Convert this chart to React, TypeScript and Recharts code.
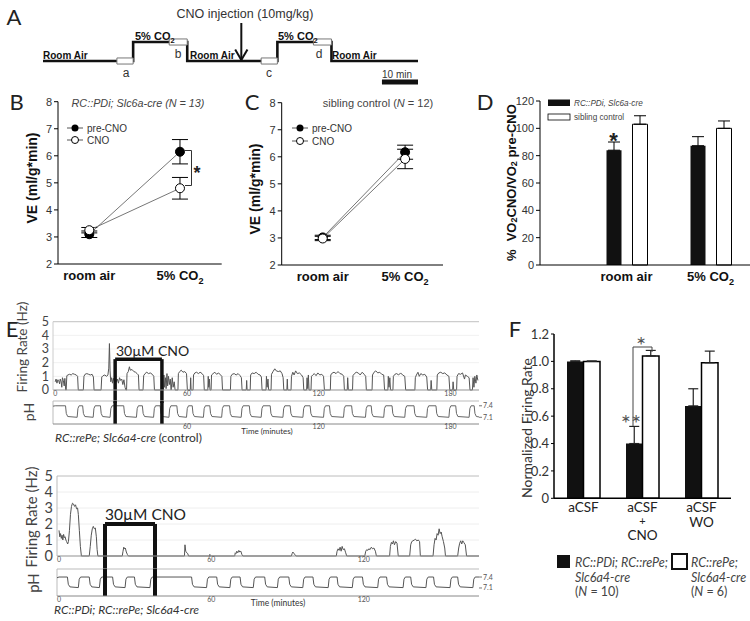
import React from 'react';
import {
  LineChart, Line, BarChart, Bar, XAxis, YAxis, ErrorBar,
  ReferenceLine, ReferenceArea, CartesianGrid,
} from 'recharts';

const ARIAL = "'Liberation Sans', Arial, Helvetica, sans-serif";
const MYR = "Lato, 'Open Sans', sans-serif";

// ---------------- Panel A (protocol schematic, minutes) ----------------
const protocolTimes = [0, 25, 40, 65, 80, 104];
const protocolLevels = [0, 1, 0, 1, 0, 0];
const windowIds = ['a', 'b', 'c', 'd'];
const windowStarts = [20.5, 35, 60.5, 75];
const windowEnds = [25, 40, 65, 80];
const windowLevels = [0, 1, 0, 1];
const injectionTime = 55;
const scaleBarMinutes = [94, 104];

// ---------------- Panels B, C ----------------
const conditions = ['room air', '5% CO2'];
const bPreCNO = [3.1, 6.15];
const bPreErr = [0.12, 0.45];
const bCNO = [3.25, 4.8];
const bCNOErr = [0.1, 0.4];
const cPreCNO = [3.02, 6.17];
const cPreErr = [0.08, 0.26];
const cCNO = [2.98, 5.92];
const cCNOErr = [0.08, 0.36];
const veTicks = [2, 3, 4, 5, 6, 7, 8];

// ---------------- Panel D ----------------
const dPDi = [84, 87.3];
const dPDiErr = [6, 6.6];
const dSibling = [103, 100];
const dSiblingErr = [6.2, 5.4];
const vo2Ticks = [0, 20, 40, 60, 80, 100, 120];

// ---------------- Panel F ----------------
const fConditions = ['aCSF', 'aCSF|+|CNO', 'aCSF|WO'];
const fPDi = [1.0, 0.4, 0.675];
const fPDiErr = [0.004, 0.125, 0.125];
const fRePe = [1.0, 1.04, 0.99];
const fRePeErr = [0.003, 0.04, 0.085];
const fTicks = [0, 0.2, 0.4, 0.6, 0.8, 1.0, 1.2];

// ---------------- Panel E traces (minutes, Hz / pH) ----------------
const cnoTopWindow = [27.3, 48.6];
const cnoBottomWindow = [18.1, 37.8];
const topTimeTicks = [0, 60, 120, 180];
const bottomTimeTicks = [0, 60, 120];
const rateTicks = [0, 1, 2, 3, 4, 5];
const phTicks = [7.1, 7.4];

const topFiring: [number, number][] = [
  [0, 0.6], [0.4, 0.8], [0.8, 0.5], [1.2, 0.75], [1.6, 0.7], [2.0, 0.45], [2.3, 0.8], [2.7, 0.6], [3.0, 0.2], [3.3, 0.9], [3.7, 0.7], [4.1, 0.3], [4.4, 0.85], [4.8, 0],
  [5.0, 0], [5.3, 1.05], [5.8, 1.1], [6.5, 1.15], [7.3, 1.1], [8.0, 1.2], [8.8, 1.15], [9.6, 1.1], [10.2, 1.0], [10.5, 0],
  [12.8, 0], [13.1, 1.0], [13.6, 1.15], [14.4, 1.2], [15.2, 1.15], [16.0, 1.1], [16.8, 1.15], [17.4, 0.95], [17.7, 0],
  [20.9, 0], [21.2, 0.95], [21.8, 1.05], [22.6, 1.1], [23.4, 1.0], [24.0, 1.1], [24.4, 1.6], [24.7, 3.4], [25.0, 1.4], [25.3, 0.6], [25.7, 0.9], [26.1, 0.5], [26.5, 0.85], [26.9, 0.7], [27.3, 0.95], [27.8, 0.6], [28.3, 0.8], [28.8, 0.5], [29.3, 0.9], [29.8, 0.7], [30.3, 0.8], [30.8, 0.4], [31.3, 0.75], [31.8, 0.2], [32.2, 0],
  [32.5, 0], [32.7, 1.2], [33.3, 1.35], [33.8, 1.7], [34.2, 1.45], [35.0, 1.5], [35.8, 1.35], [36.6, 1.3], [37.3, 1.2], [37.9, 1.1], [38.2, 0],
  [40.0, 0], [40.3, 1.05], [40.9, 1.2], [41.7, 1.3], [42.5, 1.2], [43.3, 1.25], [44.2, 1.15], [44.9, 1.0], [45.2, 0],
  [49.3, 0], [49.5, 1.1], [49.8, 0.2], [50.2, 0.9], [50.5, 0.1], [50.9, 1.2], [51.2, 0.3], [51.6, 1.0], [52.0, 0.4], [52.4, 0.8], [52.8, 0], [53.3, 0.9], [53.7, 0.2], [54.2, 0.6], [54.6, 0],
  [55.9, 0], [56.1, 1.2], [56.7, 1.35], [57.4, 1.45], [58.2, 1.3], [59.0, 1.35], [59.8, 1.2], [60.2, 0],
  [61.5, 0], [61.7, 0.9], [61.9, 0], [62.8, 0], [63.0, 1.1], [63.6, 1.25], [64.4, 1.3], [65.2, 1.2], [66.0, 1.3], [66.9, 1.2], [67.6, 1.05], [67.9, 0],
  [69.5, 0], [69.7, 1.0], [69.9, 0.2], [70.2, 0.8], [70.5, 0], [71.0, 0], [71.2, 1.1], [71.9, 1.2], [72.7, 1.3], [73.5, 1.15], [74.4, 1.25], [75.3, 1.1], [75.9, 1.0], [76.2, 0],
  [79.8, 0], [80.0, 1.0], [80.6, 1.15], [81.5, 1.2], [82.4, 1.1], [83.3, 1.2], [84.2, 1.05], [84.8, 0.9], [85.1, 0],
  [87.0, 0], [87.2, 0.7], [87.4, 0], [88.8, 0], [89.0, 1.1], [89.7, 1.25], [90.6, 1.2], [91.5, 1.3], [92.4, 1.15], [93.3, 1.1], [93.9, 0.95], [94.2, 0],
  [96.0, 0], [96.2, 1.0], [96.5, 0.2], [96.9, 0.8], [97.2, 0], [98.3, 0], [98.5, 1.15], [99.2, 1.35], [100.0, 1.55], [100.7, 1.4], [101.6, 1.35], [102.5, 1.4], [103.3, 1.2], [103.8, 0.9], [104.1, 0],
  [105.5, 0], [105.7, 0.8], [105.9, 0], [107.4, 0], [107.6, 1.0], [108.2, 1.3], [108.8, 1.1], [109.5, 1.4], [110.3, 1.2], [111.2, 1.25], [112.2, 1.1], [112.9, 0.9], [113.2, 0],
  [114.5, 0], [114.7, 0.9], [115.0, 0.1], [115.3, 1.1], [115.6, 0], [116.5, 0], [116.7, 1.0], [117.3, 1.1], [118.0, 1.2], [118.8, 1.05], [119.6, 1.25], [120.5, 1.1], [121.4, 1.15], [122.2, 1.0], [122.6, 0],
  [125.3, 0], [125.5, 1.1], [126.2, 1.25], [127.0, 1.3], [127.9, 1.2], [128.8, 1.35], [129.7, 1.2], [130.7, 1.15], [131.4, 1.0], [131.7, 0],
  [133.0, 0], [133.2, 0.9], [133.5, 0], [135.4, 0], [135.6, 1.05], [136.3, 1.2], [137.1, 1.3], [138.0, 1.25], [138.9, 1.1], [139.8, 1.3], [140.7, 1.15], [141.4, 1.0], [141.7, 0],
  [144.3, 0], [144.5, 1.1], [145.2, 1.3], [146.0, 1.4], [146.9, 1.25], [147.8, 1.3], [148.7, 1.15], [149.6, 1.1], [150.0, 0],
  [151.5, 0], [151.7, 1.0], [152.0, 0.2], [152.4, 0.9], [152.7, 0], [153.8, 0], [154.0, 1.0], [154.7, 1.15], [155.5, 1.2], [156.4, 1.1], [157.3, 1.25], [158.2, 1.1], [159.2, 1.0], [159.6, 0],
  [163.8, 0], [164.0, 0.9], [164.5, 1.1], [165.2, 1.3], [165.8, 1.0], [166.5, 1.2], [167.4, 1.1], [168.3, 1.15], [169.2, 0.95], [169.6, 0],
  [171.0, 0], [171.2, 0.7], [171.5, 0], [173.8, 0], [174.0, 1.1], [174.7, 1.25], [175.6, 1.3], [176.5, 1.2], [177.4, 1.25], [178.4, 1.1], [179.3, 1.0], [179.7, 0],
  [181.0, 0], [181.2, 0.6], [181.5, 0], [182.8, 0], [183.0, 1.0], [183.7, 1.2], [184.6, 1.15], [185.5, 1.25], [186.4, 0.8], [186.8, 1.1], [187.7, 1.0], [188.5, 0.9], [188.9, 0],
  [190.0, 0], [190.3, 0.9], [190.7, 0.2], [191.1, 1.0], [191.6, 0.5], [192.0, 1.1], [192.5, 0.7],
];

const topPH: [number, number][] = [
  [-1, 7.39], [0, 7.4],
  [4.7, 7.4], [5.05, 7.2], [5.7, 7.12], [10.0, 7.1], [10.35, 7.33], [10.9, 7.4],
  [12.5, 7.4], [12.85, 7.2], [13.5, 7.12], [17.3, 7.1], [17.65, 7.33], [18.2, 7.4],
  [20.6, 7.4], [20.95, 7.2], [21.6, 7.12], [25.0, 7.1], [25.35, 7.33], [25.9, 7.4],
  [31.2, 7.4], [31.55, 7.2], [32.2, 7.12], [37.0, 7.1], [37.35, 7.33], [37.9, 7.4],
  [39.7, 7.4], [40.05, 7.2], [40.7, 7.12], [44.8, 7.1], [45.15, 7.33], [45.7, 7.4],
  [47.8, 7.4], [48.15, 7.2], [48.8, 7.12], [51.8, 7.1], [52.15, 7.33], [52.7, 7.4],
  [55.4, 7.4], [55.75, 7.2], [56.4, 7.12], [59.8, 7.1], [60.15, 7.33], [60.7, 7.4],
  [62.4, 7.4], [62.75, 7.2], [63.4, 7.12], [67.5, 7.1], [67.85, 7.33], [68.4, 7.4],
  [70.4, 7.4], [70.75, 7.2], [71.4, 7.12], [75.8, 7.1], [76.15, 7.33], [76.7, 7.4],
  [79.4, 7.4], [79.75, 7.2], [80.4, 7.12], [84.7, 7.1], [85.05, 7.33], [85.6, 7.4],
  [88.4, 7.4], [88.75, 7.2], [89.4, 7.12], [93.8, 7.1], [94.15, 7.33], [94.7, 7.4],
  [97.9, 7.4], [98.25, 7.2], [98.9, 7.12], [103.7, 7.1], [104.05, 7.33], [104.6, 7.4],
  [107.0, 7.4], [107.35, 7.2], [108.0, 7.12], [112.8, 7.1], [113.15, 7.33], [113.7, 7.4],
  [116.1, 7.4], [116.45, 7.2], [117.1, 7.12], [122.2, 7.1], [122.55, 7.33], [123.1, 7.4],
  [124.9, 7.4], [125.25, 7.2], [125.9, 7.12], [131.3, 7.1], [131.65, 7.33], [132.2, 7.4],
  [135.0, 7.4], [135.35, 7.2], [136.0, 7.12], [141.3, 7.1], [141.65, 7.33], [142.2, 7.4],
  [143.9, 7.4], [144.25, 7.2], [144.9, 7.12], [149.6, 7.1], [149.95, 7.33], [150.5, 7.4],
  [153.4, 7.4], [153.75, 7.2], [154.4, 7.12], [159.2, 7.1], [159.55, 7.33], [160.1, 7.4],
  [163.4, 7.4], [163.75, 7.2], [164.4, 7.12], [169.2, 7.1], [169.55, 7.33], [170.1, 7.4],
  [173.4, 7.4], [173.75, 7.2], [174.4, 7.12], [179.3, 7.1], [179.65, 7.33], [180.2, 7.4],
  [182.4, 7.4], [182.75, 7.2], [183.4, 7.12], [188.5, 7.1], [188.85, 7.33], [189.4, 7.4],
  [190.8, 7.4], [191.15, 7.2], [191.8, 7.12], [193, 7.11],
];

const bottomFiring: [number, number][] = [
  [0, 1.6], [0.3, 1.2], [0.6, 1.4], [0.9, 1.1], [1.2, 1.3], [1.5, 1.0], [1.8, 1.35], [2.1, 1.15], [2.4, 1.2], [2.7, 1.0], [3.0, 0.9], [3.4, 0.75], [3.7, 0.9],
  [4.1, 1.6], [4.5, 2.6], [4.9, 3.1], [5.3, 3.3], [5.7, 3.25], [6.1, 3.1], [6.5, 3.2], [6.9, 2.95], [7.3, 3.0], [7.6, 2.6], [8.0, 1.6], [8.4, 0.6], [8.8, 0],
  [11.9, 0], [12.3, 0.6], [12.7, 1.3], [13.1, 1.7], [13.5, 1.85], [13.9, 1.7], [14.3, 1.75], [14.7, 1.2], [15.0, 0.4], [15.3, 0],
  [24.9, 0], [25.2, 0.3], [25.5, 0.55], [25.8, 0.45], [26.1, 0.5], [26.5, 0.25], [26.9, 0.1], [27.3, 0],
  [49.4, 0], [49.6, 0.7], [49.9, 0.3], [50.3, 0.2], [50.7, 0.15], [51.0, 0],
  [59.2, 0], [59.4, 0.1], [59.6, 0],
  [69.2, 0], [69.4, 0.2], [69.7, 0.15], [70.0, 0.3], [70.4, 0.2], [70.8, 0.35], [71.2, 0.25], [71.6, 0.3], [72.0, 0.1], [72.4, 0],
  [91.5, 0], [91.8, 0.15], [92.1, 0.25], [92.5, 0.15], [92.9, 0.1], [93.3, 0],
  [109.2, 0], [109.5, 0.3], [109.9, 0.45], [110.3, 0.35], [110.7, 0.55], [111.1, 0.3], [111.5, 0.6], [111.9, 0.4], [112.4, 0.45], [112.9, 0.2], [113.3, 0],
  [120.4, 0], [120.8, 0.3], [121.2, 0.4], [121.6, 0.35], [122.0, 0.45], [122.5, 0.4], [123.0, 0.55], [123.5, 0.45], [124.0, 0.5], [124.6, 0.3], [125.0, 0],
  [130.2, 0], [130.5, 0.6], [130.9, 0.85], [131.3, 0.75], [131.7, 0.95], [132.1, 0.7], [132.6, 0.9], [133.1, 0.8], [133.6, 0],
  [138.1, 0], [138.5, 0.7], [138.9, 0.9], [139.4, 0.95], [139.9, 1.0], [140.4, 1.05], [140.9, 0.95], [141.5, 1.0], [142.0, 0.9], [142.3, 0],
  [147.3, 0], [147.7, 0.7], [148.1, 1.1], [148.5, 1.0], [148.9, 1.4], [149.3, 1.3], [149.7, 1.7], [150.1, 1.4], [150.5, 1.5], [150.9, 1.2], [151.4, 0.9], [151.9, 0.5], [152.2, 0],
  [157.0, 0], [157.4, 0.5], [157.8, 0.8], [158.2, 0.95], [158.6, 0.75], [159.0, 0.95], [159.4, 0.85], [160.0, 0.7], [160.5, 0], [165.4, 0],
];

const bottomPH: [number, number][] = [
  [-0.8, 7.38], [0, 7.4],
  [3.3, 7.4], [3.65, 7.2], [4.3, 7.13], [7.6, 7.11], [7.95, 7.34], [8.5, 7.4],
  [11.9, 7.4], [12.25, 7.2], [12.9, 7.13], [15.9, 7.11], [16.25, 7.34], [16.8, 7.4],
  [21.1, 7.4], [21.45, 7.2], [22.1, 7.13], [26.0, 7.11], [26.35, 7.34], [26.9, 7.4],
  [29.7, 7.4], [30.05, 7.2], [30.7, 7.13], [35.8, 7.11], [36.15, 7.34], [36.7, 7.4],
  [52.2, 7.4], [52.55, 7.2], [53.2, 7.13], [58.1, 7.11], [58.45, 7.34], [59.0, 7.4],
  [62.1, 7.4], [62.45, 7.2], [63.1, 7.13], [67.3, 7.11], [67.65, 7.34], [68.2, 7.4],
  [71.3, 7.4], [71.65, 7.2], [72.3, 7.13], [76.5, 7.11], [76.85, 7.34], [77.4, 7.4],
  [81.0, 7.4], [81.35, 7.2], [82.0, 7.13], [86.0, 7.11], [86.35, 7.34], [86.9, 7.4],
  [90.5, 7.4], [90.85, 7.2], [91.5, 7.13], [96.0, 7.11], [96.35, 7.34], [96.9, 7.4],
  [100.0, 7.4], [100.35, 7.2], [101.0, 7.13], [106.0, 7.11], [106.35, 7.34], [106.9, 7.4],
  [109.5, 7.4], [109.85, 7.2], [110.5, 7.13], [115.5, 7.11], [115.85, 7.34], [116.4, 7.4],
  [119.5, 7.4], [119.85, 7.2], [120.5, 7.13], [125.5, 7.11], [125.85, 7.34], [126.4, 7.4],
  [129.0, 7.4], [129.35, 7.2], [130.0, 7.13], [135.5, 7.11], [135.85, 7.34], [136.4, 7.4],
  [138.5, 7.4], [138.85, 7.2], [139.5, 7.13], [144.5, 7.11], [144.85, 7.34], [145.4, 7.4],
  [147.5, 7.4], [147.85, 7.2], [148.5, 7.13], [154.0, 7.11], [154.35, 7.34], [154.9, 7.4],
  [157.0, 7.4], [157.35, 7.2], [158.0, 7.13], [163.0, 7.11], [163.35, 7.34], [163.9, 7.4],
  [165.4, 7.4],
];

// ---------------- helpers ----------------
const Box = ({ left, top, children }: any) => (
  <div style={{ position: 'absolute', left, top }}>{children}</div>
);

const CondLabel = ({ x, y, label, size = 13 }: any) => {
  const isCO2 = label.endsWith('CO2');
  return (
    <text x={x} y={y} dy="0.75em" textAnchor="middle" fontWeight="bold" fontSize={size} fontFamily={ARIAL} fill="#111">
      {isCO2 ? (
        <>
          <tspan>{label.slice(0, -1)}</tspan>
          <tspan fontSize={size * 0.7} dy={size * 0.3}>2</tspan>
        </>
      ) : label}
    </text>
  );
};

const numTick = (p: any) => <CondLabel x={p.x} y={p.y} label={conditions[Math.round(p.payload.value) - 1] || ''} />;
const catTick = (p: any) => <CondLabel x={p.x} y={p.y} label={String(p.payload.value)} />;

const FTick = (p: any) => {
  const lines = String(p.payload.value).split('|');
  const offs = lines.length === 3 ? [8.5, 22.5, 37] : [8.5, 23.5];
  return (
    <g>
      {lines.map((l, i) => (
        <text key={i} x={p.x} y={p.y + offs[i]} textAnchor="middle" dominantBaseline="central"
          fontSize={l === '+' ? 11 : 13.5} fontFamily={MYR} fill="#222">{l}</text>
      ))}
    </g>
  );
};

const axisTick = { fontSize: 11, fill: '#333', fontFamily: ARIAL };

function VEChart({ pre, preErr, cno, cnoErr, width, margin, domain, yWidth }: any) {
  const data = conditions.map((c, i) => ({ x: i + 1, cond: c, pre: pre[i], preErr: preErr[i], cno: cno[i], cnoErr: cnoErr[i] }));
  return (
    <LineChart width={width} height={200} data={data} margin={margin}>
      <XAxis type="number" dataKey="x" domain={domain} allowDataOverflow ticks={[1, 2]} interval={0} tickLine={false}
        axisLine={{ stroke: '#000' }} height={25} tickSize={0} tickMargin={6} tick={numTick} />
      <YAxis type="number" domain={[2, 8]} ticks={veTicks} interval={0} width={yWidth} tickSize={4} tickMargin={2}
        axisLine={{ stroke: '#000' }} tickLine={{ stroke: '#000' }} tick={axisTick} />
      <Line dataKey="pre" stroke="#777" strokeWidth={1} isAnimationActive={false}
        dot={{ r: 4.5, fill: '#000', stroke: '#000', strokeWidth: 1 }}>
        <ErrorBar dataKey="preErr" width={8} stroke="#000" strokeWidth={1} direction="y" />
      </Line>
      <Line dataKey="cno" stroke="#777" strokeWidth={1} isAnimationActive={false}
        dot={{ r: 4.5, fill: '#fff', stroke: '#000', strokeWidth: 1 }}>
        <ErrorBar dataKey="cnoErr" width={8} stroke="#000" strokeWidth={1} direction="y" />
      </Line>
    </LineChart>
  );
}

export default function App() {
  const protocolData = protocolTimes.map((t, i) => ({ t, level: protocolLevels[i] }));
  const dData = conditions.map((c, i) => ({ cond: c, pdi: dPDi[i], pdiErr: [0, dPDiErr[i]], sib: dSibling[i], sibErr: [0, dSiblingErr[i]] }));
  const fData = fConditions.map((c, i) => ({ cond: c, pdi: fPDi[i], pdiErr: [0, fPDiErr[i]], repe: fRePe[i], repeErr: [0, fRePeErr[i]] }));
  const topRate = topFiring.map(([t, v]) => ({ t, v }));
  const topPh = topPH.map(([t, v]) => ({ t, v }));
  const botRate = bottomFiring.map(([t, v]) => ({ t, v }));
  const botPh = bottomPH.map(([t, v]) => ({ t, v }));
  const smallTick = { fontSize: 7, fill: '#555', fontFamily: MYR };

  return (
    <div style={{ position: 'absolute', left: 0, top: 0, width: 750, height: 621, overflow: 'hidden', background: '#fff', fontFamily: ARIAL }}>
      {/* Panel A */}
      <Box left={0} top={0}>
        <LineChart width={460} height={90} data={protocolData} margin={{ left: 43, right: 42, top: 23, bottom: 4.3 }}>
          <XAxis type="number" dataKey="t" domain={[0, 104]} hide allowDataOverflow />
          <YAxis type="number" domain={[-1.3, 2]} hide allowDataOverflow />
          <Line type="stepAfter" dataKey="level" stroke="#111" strokeWidth={2.6} dot={false} isAnimationActive={false} />
          {windowIds.map((id, i) => (
            <ReferenceArea key={id} x1={windowStarts[i]} x2={windowEnds[i]} y1={windowLevels[i] - 0.16} y2={windowLevels[i] + 0.16}
              fill="#fff" fillOpacity={1} stroke="#777" strokeWidth={1} ifOverflow="visible" zIndex={1000} />
          ))}
          <ReferenceLine segment={[{ x: injectionTime, y: 2 }, { x: injectionTime, y: 0.05 }]} stroke="#111" strokeWidth={2} ifOverflow="visible" />
          <ReferenceLine segment={[{ x: injectionTime - 1.7, y: 0.6 }, { x: injectionTime, y: 0.05 }]} stroke="#111" strokeWidth={2} ifOverflow="visible" />
          <ReferenceLine segment={[{ x: injectionTime + 1.7, y: 0.6 }, { x: injectionTime, y: 0.05 }]} stroke="#111" strokeWidth={2} ifOverflow="visible" />
          <ReferenceLine segment={[{ x: scaleBarMinutes[0], y: -1.1 }, { x: scaleBarMinutes[1], y: -1.1 }]} stroke="#111" strokeWidth={5} ifOverflow="visible" />
        </LineChart>
      </Box>

      {/* Panel B */}
      <Box left={0} top={90}>
        <VEChart pre={bPreCNO} preErr={bPreErr} cno={bCNO} cnoErr={bCNOErr} width={240}
          margin={{ left: 13, top: 11.7, right: 18.3, bottom: 1 }} domain={[0.655, 2.46]} yWidth={45} />
      </Box>

      {/* Panel C */}
      <Box left={240} top={90}>
        <VEChart pre={cPreCNO} preErr={cPreErr} cno={cCNO} cnoErr={cCNOErr} width={240}
          margin={{ left: 3.7, top: 12.7, right: 37, bottom: 0 }} domain={[0.502, 2.46]} yWidth={38} />
      </Box>

      {/* Panel D */}
      <Box left={480} top={90}>
        <BarChart width={280} height={200} data={dData} margin={{ left: 20, top: 11, right: 7.5, bottom: 0 }} barGap={11}>
          <XAxis dataKey="cond" padding={{ left: 44.5, right: 0 }} interval={0} tickLine={false} axisLine={{ stroke: '#000' }}
            height={25} tickSize={0} tickMargin={6} tick={catTick} />
          <YAxis type="number" domain={[0, 120]} ticks={vo2Ticks} interval={0} width={40} tickSize={4} tickMargin={2}
            axisLine={{ stroke: '#000' }} tickLine={{ stroke: '#000' }} tick={axisTick} />
          <Bar dataKey="pdi" fill="#111" barSize={15} isAnimationActive={false}>
            <ErrorBar dataKey="pdiErr" width={6} stroke="#000" strokeWidth={1} />
          </Bar>
          <Bar dataKey="sib" fill="#fff" stroke="#000" strokeWidth={1} barSize={15} isAnimationActive={false}>
            <ErrorBar dataKey="sibErr" width={6} stroke="#000" strokeWidth={1} />
          </Bar>
        </BarChart>
      </Box>

      {/* Panel E top: firing rate */}
      <Box left={0} top={310}>
        <LineChart width={495} height={95} data={topRate} margin={{ left: 13, top: 11.7, right: 16, bottom: 3 }}>
          <CartesianGrid stroke="#f1f1f1" vertical={false} />
          <XAxis type="number" dataKey="t" domain={[-1, 193]} allowDataOverflow ticks={topTimeTicks} interval={0} tickLine={false}
            tickSize={0} tickMargin={1} height={12} axisLine={{ stroke: '#999' }} tick={smallTick} />
          <YAxis type="number" domain={[0, 5]} ticks={rateTicks} interval={0} width={40} tickLine={false} tickSize={0} tickMargin={4}
            axisLine={{ stroke: '#ccc' }} tick={{ fontSize: 12.5, fill: '#444', fontFamily: MYR }} />
          <ReferenceLine y={5} stroke="#c4c4c4" />
          <Line dataKey="v" type="linear" stroke="#555" strokeWidth={1} dot={false} isAnimationActive={false} />
          <ReferenceLine segment={[{ x: cnoTopWindow[0], y: -0.95 }, { x: cnoTopWindow[0], y: 2.26 }]} stroke="#111" strokeWidth={3.5} ifOverflow="visible" />
          <ReferenceLine segment={[{ x: cnoTopWindow[0], y: 2.26 }, { x: cnoTopWindow[1], y: 2.26 }]} stroke="#111" strokeWidth={3.5} ifOverflow="visible" />
          <ReferenceLine segment={[{ x: cnoTopWindow[1], y: 2.26 }, { x: cnoTopWindow[1], y: -0.95 }]} stroke="#111" strokeWidth={3.5} ifOverflow="visible" />
        </LineChart>
      </Box>
      {/* Panel E top: pH */}
      <Box left={0} top={395}>
        <LineChart width={495} height={45} data={topPh} margin={{ left: 53, top: 6, right: 0, bottom: 6 }}>
          <XAxis type="number" dataKey="t" domain={[-1, 193]} allowDataOverflow ticks={[60, 120, 180]} interval={0} tickLine={false}
            tickSize={0} tickMargin={0} height={10} axisLine={{ stroke: '#888' }} tick={smallTick} />
          <YAxis type="number" orientation="right" domain={[6.925, 7.525]} allowDataOverflow ticks={phTicks} interval={0} width={16}
            axisLine={false} tickSize={3} tickMargin={1} tickLine={{ stroke: '#777' }} tick={smallTick} />
          <ReferenceLine x={-1} stroke="#bbb" />
          <ReferenceLine y={7.525} stroke="#bbb" />
          <Line dataKey="v" type="linear" stroke="#666" strokeWidth={1} dot={false} isAnimationActive={false} />
          <ReferenceLine x={cnoTopWindow[0]} stroke="#111" strokeWidth={3.5} />
          <ReferenceLine x={cnoTopWindow[1]} stroke="#111" strokeWidth={3.5} />
        </LineChart>
      </Box>

      {/* Panel E bottom: firing rate */}
      <Box left={0} top={465}>
        <LineChart width={495} height={105} data={botRate} margin={{ left: 17, top: 11, right: 16, bottom: 2 }}>
          <CartesianGrid stroke="#eeeeee" vertical={false} />
          <XAxis type="number" dataKey="t" domain={[-0.8, 165.4]} allowDataOverflow ticks={bottomTimeTicks} interval={0} tickLine={false}
            tickSize={0} tickMargin={1} height={12} axisLine={{ stroke: '#999' }} tick={smallTick} />
          <YAxis type="number" domain={[0, 5]} ticks={rateTicks} interval={0} width={40} tickLine={false} tickSize={0} tickMargin={4}
            axisLine={{ stroke: '#bbb' }} tick={{ fontSize: 14.5, fill: '#444', fontFamily: MYR }} />
          <ReferenceLine y={5} stroke="#c4c4c4" />
          <Line dataKey="v" type="linear" stroke="#555" strokeWidth={1} dot={false} isAnimationActive={false} />
          <ReferenceLine segment={[{ x: cnoBottomWindow[0], y: -0.9 }, { x: cnoBottomWindow[0], y: 2.0 }]} stroke="#111" strokeWidth={4} ifOverflow="visible" />
          <ReferenceLine segment={[{ x: cnoBottomWindow[0], y: 2.0 }, { x: cnoBottomWindow[1], y: 2.0 }]} stroke="#111" strokeWidth={4} ifOverflow="visible" />
          <ReferenceLine segment={[{ x: cnoBottomWindow[1], y: 2.0 }, { x: cnoBottomWindow[1], y: -0.9 }]} stroke="#111" strokeWidth={4} ifOverflow="visible" />
        </LineChart>
      </Box>
      {/* Panel E bottom: pH */}
      <Box left={0} top={563}>
        <LineChart width={495} height={45} data={botPh} margin={{ left: 57, top: 6, right: 0, bottom: 2 }}>
          <XAxis type="number" dataKey="t" domain={[-0.8, 165.4]} allowDataOverflow ticks={bottomTimeTicks} interval={0} tickLine={false}
            tickSize={0} tickMargin={1} height={10} axisLine={{ stroke: '#888' }} tick={smallTick} />
          <YAxis type="number" orientation="right" domain={[6.88, 7.62]} allowDataOverflow ticks={phTicks} interval={0} width={16}
            axisLine={false} tickSize={3} tickMargin={1} tickLine={{ stroke: '#777' }} tick={smallTick} />
          <ReferenceLine x={-0.8} stroke="#bbb" />
          <ReferenceLine y={7.62} stroke="#bbb" />
          <Line dataKey="v" type="linear" stroke="#555" strokeWidth={1} dot={false} isAnimationActive={false} />
          <ReferenceLine x={cnoBottomWindow[0]} stroke="#111" strokeWidth={4} />
          <ReferenceLine x={cnoBottomWindow[1]} stroke="#111" strokeWidth={4} />
        </LineChart>
      </Box>

      {/* Panel F */}
      <Box left={500} top={320}>
        <BarChart width={250} height={240} data={fData} margin={{ left: 19, top: 14, right: 19, bottom: 11.7 }} barGap={0}>
          <XAxis dataKey="cond" interval={0} tickLine={false} axisLine={{ stroke: '#000', strokeWidth: 1.5 }} height={50} tickSize={0} tickMargin={0} tick={FTick} />
          <YAxis type="number" domain={[0, 1.2]} ticks={fTicks} interval={0} width={35} tickSize={3} tickMargin={2}
            tickFormatter={(v: number) => (v === 0 ? '0' : v.toFixed(1))}
            axisLine={{ stroke: '#000', strokeWidth: 1.5 }} tickLine={{ stroke: '#000' }} tick={{ fontSize: 13, fill: '#333', fontFamily: MYR }} />
          <Bar dataKey="pdi" fill="#111" barSize={16.5} isAnimationActive={false}>
            <ErrorBar dataKey="pdiErr" width={5} stroke="#222" strokeWidth={1.2} />
          </Bar>
          <Bar dataKey="repe" fill="#fff" stroke="#000" strokeWidth={1.5} barSize={16.5} isAnimationActive={false}>
            <ErrorBar dataKey="repeErr" width={5} stroke="#222" strokeWidth={1.2} />
          </Bar>
        </BarChart>
      </Box>

      {/* Annotation overlay */}
      <svg width={750} height={621} style={{ position: 'absolute', left: 0, top: 0, pointerEvents: 'none' }}>
        {/* panel letters */}
        <g fontFamily={MYR} fontSize={22} fill="#222" textAnchor="middle">
          <text x={14} y={25}>A</text>
          <text x={16.5} y={110}>B</text>
          <text x={252} y={110}>C</text>
          <text x={485} y={110}>D</text>
          <text x={12} y={337}>E</text>
          <text x={515} y={337}>F</text>
        </g>

        {/* Panel A text */}
        <g fontFamily={ARIAL} fill="#111">
          <text x={43} y={59} fontSize={10} fontWeight="bold">Room Air</text>
          <text x={190} y={59} fontSize={10} fontWeight="bold">Room Air</text>
          <text x={332} y={59} fontSize={10} fontWeight="bold">Room Air</text>
          <text x={135} y={40} fontSize={11} fontWeight="bold">5% CO<tspan fontSize={7.5} dy={3}>2</tspan></text>
          <text x={278} y={40} fontSize={11} fontWeight="bold">5% CO<tspan fontSize={7.5} dy={3}>2</tspan></text>
          <text x={126} y={77} fontSize={12} textAnchor="middle" fill="#333">a</text>
          <text x={178} y={58} fontSize={12} textAnchor="middle" fill="#333">b</text>
          <text x={269} y={77} fontSize={12} textAnchor="middle" fill="#333">c</text>
          <text x={319} y={58} fontSize={12} textAnchor="middle" fill="#333">d</text>
          <text x={245} y={18} fontSize={12.5} textAnchor="middle" fill="#333">CNO injection (10mg/kg)</text>
          <text x={397} y={78} fontSize={10} textAnchor="middle" fill="#333">10 min</text>
        </g>

        {/* Panel B annotations */}
        <g fontFamily={ARIAL}>
          <text x={138} y={107} fontSize={10.8} fontStyle="italic" textAnchor="middle" fill="#444">RC::PDi; Slc6a-cre (N = 13)</text>
          <line x1={67} y1={128} x2={83} y2={128} stroke="#555" />
          <circle cx={75} cy={128} r={3.5} fill="#000" />
          <text x={87} y={131.5} fontSize={10} fill="#333">pre-CNO</text>
          <line x1={67} y1={140} x2={83} y2={140} stroke="#555" />
          <circle cx={75} cy={140} r={3.5} fill="#fff" stroke="#000" />
          <text x={87} y={143.5} fontSize={10} fill="#333">CNO</text>
          <path d="M185 150.5 H191.5 V185.5 H185" fill="none" stroke="#333" strokeWidth={1} />
          <text x={197} y={179} fontSize={18} fontWeight="bold" textAnchor="middle" fill="#222">*</text>
          <text transform="translate(32,178) rotate(-90)" textAnchor="middle" dominantBaseline="central" fontSize={14} fontWeight="bold" fill="#111">VE (ml/g*min)</text>
        </g>

        {/* Panel C annotations */}
        <g fontFamily={ARIAL}>
          <text x={378} y={107} fontSize={11} textAnchor="middle" fill="#444">sibling control (<tspan fontStyle="italic">N</tspan> = 12)</text>
          <line x1={292} y1={128} x2={308} y2={128} stroke="#555" />
          <circle cx={300} cy={128} r={3.5} fill="#000" />
          <text x={312} y={131.5} fontSize={10} fill="#333">pre-CNO</text>
          <line x1={292} y1={141} x2={308} y2={141} stroke="#555" />
          <circle cx={300} cy={141} r={3.5} fill="#fff" stroke="#000" />
          <text x={312} y={144.5} fontSize={10} fill="#333">CNO</text>
          <text transform="translate(255,189) rotate(-90)" textAnchor="middle" dominantBaseline="central" fontSize={14} fontWeight="bold" fill="#111">VE (ml/g*min)</text>
        </g>

        {/* Panel D annotations */}
        <g fontFamily={ARIAL}>
          <rect x={548} y={99.5} width={22} height={6.5} fill="#111" />
          <text x={574} y={105.5} fontSize={8.2} fontStyle="italic" fill="#444">RC::PDi, Slc6a-cre</text>
          <rect x={548} y={114} width={22} height={6} fill="#fff" stroke="#000" strokeWidth={0.8} />
          <text x={574} y={120} fontSize={8.2} fill="#444">sibling control</text>
          <text x={613.5} y={148} fontSize={22} fontWeight="bold" textAnchor="middle" fill="#222">*</text>
          <text transform="translate(511,182.5) rotate(-90)" textAnchor="middle" dominantBaseline="central" fontSize={13} fontWeight="bold" fill="#111">
            %<tspan dx={8}>VO</tspan><tspan fontSize={9} dy={3}>2</tspan><tspan dy={-3}>CNO/VO</tspan><tspan fontSize={9} dy={3}>2</tspan><tspan dy={-3}> pre-CNO</tspan>
          </text>
        </g>

        {/* Panel E annotations */}
        <g fontFamily={MYR} fill="#333">
          <text x={116} y={356} fontSize={14} fill="#222">30µM CNO</text>
          <text x={105} y={520} fontSize={15.5} fill="#222">30µM CNO</text>
          <text transform="translate(22,347) rotate(-90)" textAnchor="middle" dominantBaseline="central" fontSize={13.5} fill="#444">Firing Rate (Hz)</text>
          <text transform="translate(28,412) rotate(-90)" textAnchor="middle" dominantBaseline="central" fontSize={14} fill="#444">pH</text>
          <text transform="translate(31,517) rotate(-90)" textAnchor="middle" dominantBaseline="central" fontSize={15} fill="#444">Firing Rate (Hz)</text>
          <text transform="translate(33,583) rotate(-90)" textAnchor="middle" dominantBaseline="central" fontSize={15} fill="#444">pH</text>
          <text x={267} y={434} fontSize={8} textAnchor="middle" fill="#333">Time (minutes)</text>
          <text x={278} y={606} fontSize={8.5} textAnchor="middle" fill="#333">Time (minutes)</text>
          <text x={55} y={442} fontSize={12} fontStyle="italic" fill="#333">RC::rePe; Slc6a4-cre <tspan fontStyle="normal">(control)</tspan></text>
          <text x={54} y={614} fontSize={12} fontStyle="italic" fill="#333">RC::PDi; RC::rePe; Slc6a4-cre</text>
        </g>

        {/* Panel F annotations */}
        <g fontFamily={MYR} fill="#333">
          <path d="M633 426 V347 H652 V352" fill="none" stroke="#444" strokeWidth={1} />
          <text x={641} y={354} fontSize={24} textAnchor="middle" fill="#555">*</text>
          <text x={631} y={432} fontSize={24} textAnchor="middle" fill="#555">**</text>
          <text transform="translate(526,428) rotate(-90)" textAnchor="middle" dominantBaseline="central" fontSize={14} fill="#333">Normalized Firing Rate</text>
          <rect x={557} y={555} width={13} height={13} fill="#111" />
          <text x={575} y={567} fontSize={12.5} fontStyle="italic" fill="#444">RC::PDi; RC::rePe;</text>
          <text x={575} y={582} fontSize={12.5} fontStyle="italic" fill="#444">Slc6a4-cre</text>
          <text x={575} y={596} fontSize={12.5} fill="#444">(<tspan fontStyle="italic">N</tspan> = 10)</text>
          <rect x={672} y={554} width={15} height={15} fill="#fff" stroke="#111" strokeWidth={2} />
          <text x={691} y={567} fontSize={12.5} fontStyle="italic" fill="#444">RC::rePe;</text>
          <text x={691} y={582} fontSize={12.5} fontStyle="italic" fill="#444">Slc6a4-cre</text>
          <text x={691} y={596} fontSize={12.5} fill="#444">(<tspan fontStyle="italic">N</tspan> = 6)</text>
        </g>
      </svg>
    </div>
  );
}
